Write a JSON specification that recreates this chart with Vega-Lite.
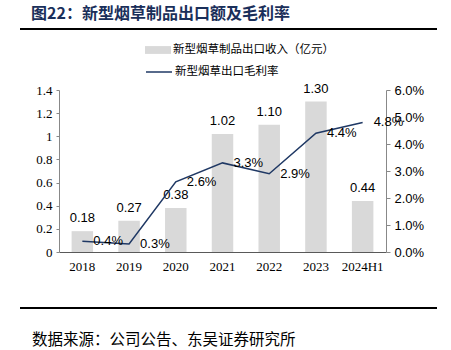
{
  "$schema": "https://vega.github.io/schema/vega-lite/v6.json",
  "padding": {"left": 20, "top": 6, "right": 0, "bottom": 0},
  "background": "white",
  "spacing": 0,
  "config": {"view": {"strokeWidth": 0}, "font": "Noto Sans CJK SC"},
  "vconcat": [
    {
      "width": 378,
      "height": 55,
      "title": {"text": "图22：新型烟草制品出口额及毛利率", "anchor": "start", "dx": 11, "fontSize": 16, "fontWeight": "bold", "color": "#1A2F5A", "font": "Noto Sans CJK SC", "offset": 5},
      "data": {"values": [{"a": 0, "b": 1, "r": 0.98, "r2": 0.945}]},
      "mark": {"type": "rect", "color": "#000000", "opacity": 1, "clip": false},
      "encoding": {
        "x": {"field": "a", "type": "quantitative", "scale": {"domain": [0, 1], "range": [-39, 378], "nice": false, "zero": false},
          "axis": {"orient": "top", "title": null, "labels": false, "ticks": false, "grid": false, "domain": false}},
        "x2": {"field": "b"},
        "y": {"field": "r", "type": "quantitative", "scale": {"domain": [0, 1], "nice": false},
          "axis": {"title": null, "labels": false, "ticks": false, "grid": false, "domain": false}},
        "y2": {"field": "r2"}
      }
    },
    {
      "width": 327,
      "height": 162,
      "data": {"values": [
        {"year": "2018", "rev": 0.18, "margin": 0.004},
        {"year": "2019", "rev": 0.27, "margin": 0.003},
        {"year": "2020", "rev": 0.38, "margin": 0.026},
        {"year": "2021", "rev": 1.02, "margin": 0.033},
        {"year": "2022", "rev": 1.10, "margin": 0.029},
        {"year": "2023", "rev": 1.30, "margin": 0.044},
        {"year": "2024H1", "rev": 0.44, "margin": 0.048}
      ]},
      "encoding": {
        "x": {"field": "year", "type": "nominal", "sort": null,
          "scale": {"paddingInner": 0.54, "paddingOuter": 0.27},
          "axis": {"title": null, "labelAngle": 0, "labelFont": "Liberation Serif", "labelFontSize": 13, "labelColor": "#000000", "ticks": false, "labelPadding": 8, "domainColor": "#595959", "domainWidth": 1}}
      },
      "layer": [
        {
          "encoding": {
            "y": {"field": "rev", "type": "quantitative",
              "scale": {"domain": [0, 1.4], "nice": false},
              "axis": {"orient": "left", "title": null, "grid": false, "values": [0, 0.2, 0.4, 0.6, 0.8, 1, 1.2, 1.4], "format": ".1~f", "labelFont": "Liberation Serif", "labelFontSize": 13, "labelColor": "#000000", "domainColor": "#888888", "tickColor": "#888888", "tickSize": 3, "labelPadding": 4, "minExtent": 39}}
          },
          "layer": [
            {
              "mark": {"type": "bar"},
              "encoding": {
                "color": {"datum": "新型烟草制品出口收入（亿元）", "scale": {"range": ["#D9D9D9"]},
                  "legend": {"orient": "none", "legendX": 86, "legendY": 10, "title": null, "symbolType": "M-1,-0.3H1V0.3H-1Z", "symbolSize": 676, "symbolStrokeWidth": 0, "labelFont": "Noto Sans CJK SC", "labelFontSize": 11.5, "labelColor": "#000000", "labelOffset": 2, "labelLimit": 400}}
              }
            },
            {
              "mark": {"type": "text", "baseline": "bottom", "dy": -6, "font": "Liberation Sans", "fontSize": 13, "color": "#000000"},
              "encoding": {"text": {"field": "rev", "type": "quantitative", "format": ".2f"}}
            }
          ]
        },
        {
          "encoding": {
            "y": {"field": "margin", "type": "quantitative",
              "scale": {"domain": [0, 0.06], "nice": false},
              "axis": {"orient": "right", "title": null, "grid": false, "values": [0, 0.01, 0.02, 0.03, 0.04, 0.05, 0.06], "format": ".1%", "labelFont": "Liberation Sans", "labelFontSize": 13, "labelColor": "#000000", "domainColor": "#888888", "tickColor": "#888888", "tickSize": 4, "labelPadding": 4}}
          },
          "layer": [
            {
              "mark": {"type": "line", "strokeWidth": 1.5},
              "encoding": {
                "stroke": {"datum": "新型烟草出口毛利率", "scale": {"range": ["#1F3864"]},
                  "legend": {"orient": "none", "legendX": 86, "legendY": 31, "title": null, "symbolType": "stroke", "symbolSize": 676, "symbolStrokeWidth": 1.5, "labelFont": "Noto Sans CJK SC", "labelFontSize": 11.5, "labelColor": "#000000", "labelOffset": 2, "labelLimit": 400}}
              }
            },
            {
              "mark": {"type": "text", "align": "left", "baseline": "middle", "dx": 11, "font": "Liberation Sans", "fontSize": 13, "color": "#000000"},
              "encoding": {"text": {"field": "margin", "type": "quantitative", "format": ".1%"}}
            }
          ]
        }
      ],
      "resolve": {"scale": {"y": "independent"}}
    },
    {
      "width": 378,
      "height": 37,
      "title": {"text": "数据来源：公司公告、东吴证券研究所", "orient": "bottom", "anchor": "start", "dx": 12, "fontSize": 15.5, "fontWeight": "normal", "color": "#000000", "font": "Noto Sans CJK SC", "offset": 23},
      "data": {"values": [{"a": 0, "b": 1, "r": 0.03, "r2": 0.082}]},
      "mark": {"type": "rect", "color": "#000000", "opacity": 1, "clip": false},
      "encoding": {
        "x": {"field": "a", "type": "quantitative", "scale": {"domain": [0, 1], "range": [-39, 378], "nice": false, "zero": false},
          "axis": {"orient": "bottom", "title": null, "labels": false, "ticks": false, "grid": false, "domain": false}},
        "x2": {"field": "b"},
        "y": {"field": "r", "type": "quantitative", "scale": {"domain": [0, 1], "nice": false},
          "axis": {"title": null, "labels": false, "ticks": false, "grid": false, "domain": false}},
        "y2": {"field": "r2"}
      }
    }
  ]
}
